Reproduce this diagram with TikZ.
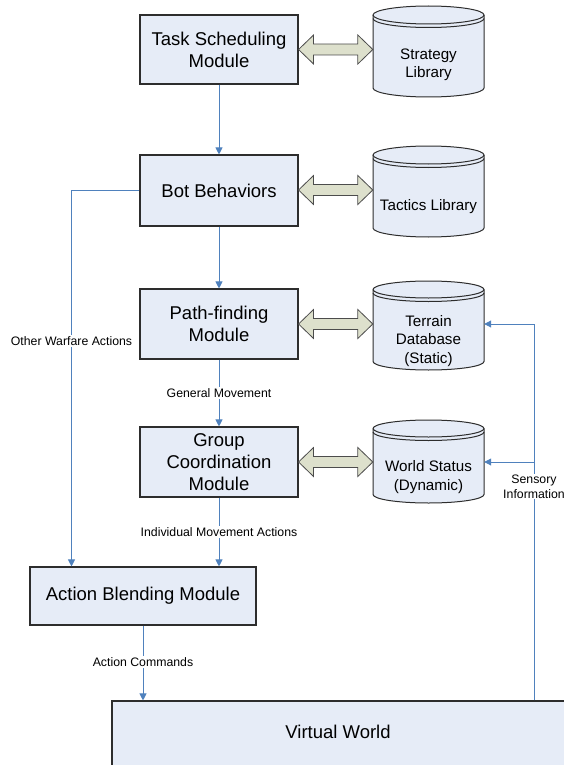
\documentclass[tikz,border=0pt]{standalone}
\usepackage{fontspec}
\setmainfont{Liberation Sans}
\usetikzlibrary{arrows.meta,calc}

\definecolor{boxfill}{RGB}{230,236,247}
\definecolor{flowblue}{RGB}{79,129,189}
\definecolor{linkfill}{RGB}{221,224,204}
\definecolor{edgegray}{RGB}{45,45,45}

\tikzset{
  module/.style={draw=edgegray, line width=1.1pt, fill=boxfill, inner sep=0pt,
    align=center, font=\fontsize{18.5}{22}\selectfont},
  cylbody/.style={draw=edgegray, line width=1pt, fill=boxfill},
  cylrim/.style={draw=edgegray, line width=1pt},
  cyltext/.style={align=center, inner sep=0pt, font=\fontsize{15.2}{18.3}\selectfont},
  flow/.style={draw=flowblue, line width=0.9pt, -{Triangle[length=7pt,width=7pt]}},
  flowline/.style={draw=flowblue, line width=0.9pt},
  tag/.style={fill=white, inner sep=1.5pt, align=center, font=\fontsize{12.3}{15}\selectfont},
  link/.style={draw=edgegray!85, line width=0.8pt, fill=linkfill, line join=miter},
}

% database cylinder: #1 name, #2 centre x, #3 top y, #4 bottom y, #5 rim radius,
% #6 text centre y, #7 text
\newcommand{\dbcyl}[7]{%
  \path[cylbody] (#2-55.5,#3+#5) -- (#2-55.5,#4-#5)
    arc[start angle=180, end angle=360, x radius=55.5pt, y radius=#5pt]
    -- (#2+55.5,#3+#5)
    arc[start angle=0, end angle=180, x radius=55.5pt, y radius=#5pt] -- cycle;
  \draw[cylrim] (#2-55.5,#3+#5)
    arc[start angle=180, end angle=360, x radius=55.5pt, y radius=#5pt];
  \draw[cylrim] (#2-55.5,#3+#5+3.5)
    arc[start angle=180, end angle=360, x radius=55.5pt, y radius=#5pt];
  \node[inner sep=0pt, minimum width=111pt, minimum height=#4pt-#3pt]
    (#1) at (#2,{(#3+#4)/2}) {};
  \node[cyltext] (#1-text) at (#2,#6) {#7};
}

% two-headed link between a module's east side and a database's west side
\newcommand{\linkarrow}[3]{%
  \path[link] let \p1=(#1.east |- 0,#3), \p2=(#2.west |- 0,#3) in
    (\x1,\y1) -- (\x1+15pt,\y1+14.5pt) -- (\x1+15pt,\y1+5.5pt)
    -- (\x2-15pt,\y1+5.5pt) -- (\x2-15pt,\y1+14.5pt) -- (\x2,\y1)
    -- (\x2-15pt,\y1-14.5pt) -- (\x2-15pt,\y1-5.5pt)
    -- (\x1+15pt,\y1-5.5pt) -- (\x1+15pt,\y1-14.5pt) -- cycle;
}

\begin{document}
\begin{tikzpicture}[x=1pt, y=-1pt]
  \useasboundingbox (0,0) rectangle (564,765);

  % modules
  \node[module, minimum width=158pt, minimum height=69pt] (task) at (219,49.5)
    {Task Scheduling\\Module};
  \node[module, minimum width=158pt, minimum height=71pt] (bot) at (219,190.5)
    {Bot Behaviors};
  \node[module, minimum width=158pt, minimum height=70pt] (path) at (219,324)
    {Path-finding\\Module};
  \node[module, minimum width=158pt, minimum height=70pt] (group) at (219,462)
    {Group\\Coordination\\Module};
  \node[module, minimum width=226pt, minimum height=58pt] (blend) at (143,596)
    {Action Blending Module};
  \node[module, minimum width=456pt, minimum height=66pt] (world) at (340,734)
    {};
  \node[font=\fontsize{18.5}{22}\selectfont] (worldtext) at (338,732) {Virtual World};

  % databases
  \dbcyl{strategy}{428.5}{6}{97}{9}{65}{Strategy\\Library}
  \dbcyl{tactics}{428.5}{146}{237}{9}{207}{Tactics Library}
  \dbcyl{terrain}{428.5}{281}{370}{8.5}{341}{Terrain\\Database\\(Static)}
  \dbcyl{status}{428.5}{420}{503}{8.5}{477}{World Status\\(Dynamic)}

  % links between modules and databases
  \linkarrow{task}{strategy}{49.5}
  \linkarrow{bot}{tactics}{190}
  \linkarrow{path}{terrain}{324}
  \linkarrow{group}{status}{462}

  % control flow
  \draw[flow] (task.south) -- (bot.north);
  \draw[flow] (bot.south) -- (path.north);
  \draw[flow] (path.south) -- node[tag] {General Movement} (group.north);
  \draw[flow] (group.south) -- node[tag, pos=0.5] {Individual Movement Actions}
    (group.south |- blend.north);
  \coordinate (warfare) at (71.5,190.5);
  \draw[flow] (bot.west) -- (warfare) -- node[tag, pos=0.40] {Other Warfare Actions}
    (warfare |- blend.north);
  \draw[flow] (blend.south) -- node[tag, pos=0.49] {Action Commands}
    (blend.south |- world.north);

  % sensory feedback
  \coordinate (senseA) at (534,324);
  \coordinate (senseB) at (534,462);
  \draw[flowline] (world.north -| senseA) -- (senseA);
  \draw[flow] (senseA) -- (terrain.east |- senseA);
  \draw[flow] (senseB) -- (status.east |- senseB);
  \node[tag, inner sep=0.5pt] (sensetag) at (534,486.5) {Sensory\\Information};
\end{tikzpicture}
\end{document}
